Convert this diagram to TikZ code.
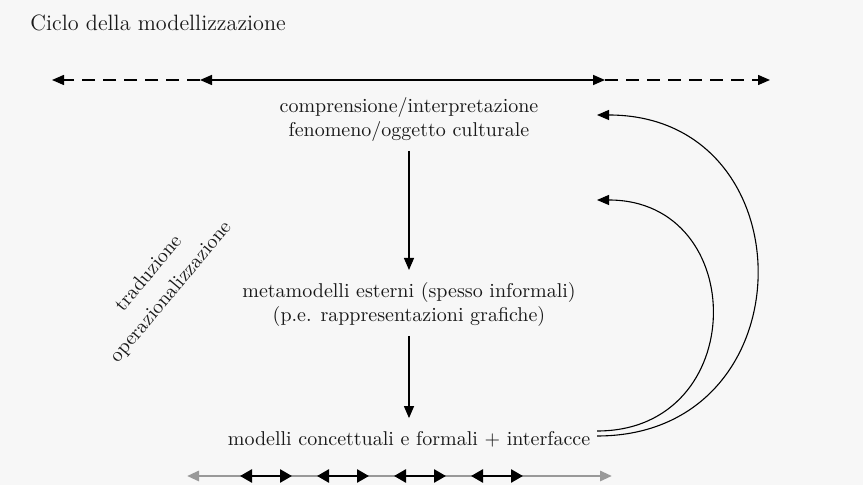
\documentclass[tikz,border=0pt]{standalone}
\usepackage{amsmath}
\usetikzlibrary{positioning,arrows.meta}

\begin{document}
\begin{tikzpicture}
  [
    x=0.5pt, y=-0.5pt,
    every node/.style={font=\fontsize{10}{12}\selectfont, text=black!90},
    stage/.style={align=center, inner sep=3.3pt},
    node distance=92.5pt,
    >={Triangle[length=6pt,width=5pt]},
    flow/.style={->, line width=0.6pt, shorten >=3pt, shorten <=1pt},
    dashedarrow/.style={->, line width=0.7pt, dash pattern=on 6.5pt off 4pt},
    backarc/.style={->, line width=0.55pt},
    rail/.style={<->, draw=black!40, line width=1.4pt},
    pairarrow/.style={{Triangle[length=6pt,width=6.5pt]}-{Triangle[length=6pt,width=6.5pt]}, line width=1.3pt},
  ]
  \fill [black!3] (0,0) rectangle (863,485);
  \useasboundingbox (0,0) rectangle (863,485);

  \node (title) [anchor=base west, inner sep=0pt, font=\fontsize{11.1}{13}\selectfont] at (30,31) {Ciclo della modellizzazione};

  \node (comp) [stage] at (409,120) {comprensione/interpretazione\\fenomeno/oggetto culturale};
  \node (meta) [stage, below of=comp] {metamodelli esterni (spesso informali)\\(p.e. rappresentazioni grafiche)};
  \node (modelli) [stage, below of=meta, node distance=67pt] {modelli concettuali e formali + interfacce};

  \node (steps) [rotate=50, align=center] at (160,283) {traduzione\\[2.5pt]operazionalizzazione};

  % top axis
  \coordinate (farl) at (52,80);
  \coordinate (topl) at (200,80);
  \coordinate (topr) at (605,80);
  \coordinate (farr) at (770,80);
  \draw [<->, line width=0.8pt] (topl) -- (topr);
  \draw [dashedarrow] (topl) -- (farl);
  \draw [dashedarrow] (topr) -- (farr);

  \draw [flow] (comp) -- (meta);
  \draw [flow] (meta) -- (modelli);

  % return arcs
  \coordinate (outertip) at (597,115);
  \coordinate (innertip) at (597,200);
  \draw [backarc] ([yshift=1.5pt]modelli.east) to[out=0, in=0, looseness=1.7] (outertip);
  \draw [backarc] ([yshift=4pt]modelli.east) to[out=0, in=0, looseness=1.7] (innertip);

  % bottom axis
  \coordinate (railstart) at (187,476);
  \coordinate (railend) at (612,476);
  \draw [rail] (railstart) -- (railend);
  \foreach \x [count=\i] in {240,317,394,471}
  {
    \coordinate (a\i) at (\x,476);
    \coordinate (b\i) at (\x+52,476);
    \draw [pairarrow] (a\i) -- (b\i);
  }
\end{tikzpicture}
\end{document}
